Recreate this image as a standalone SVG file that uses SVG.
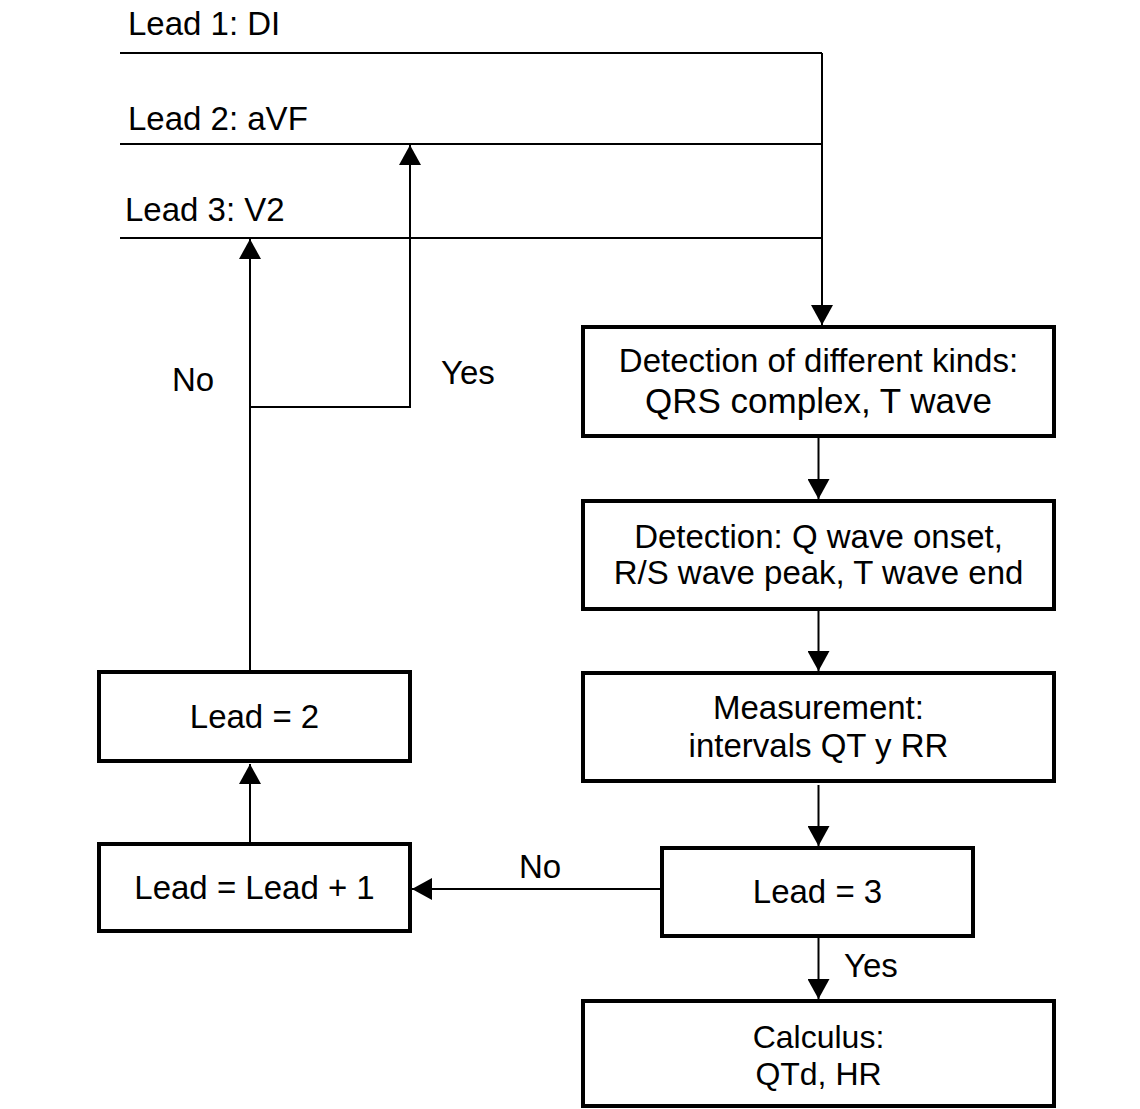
<svg xmlns="http://www.w3.org/2000/svg" width="1140" height="1109" viewBox="0 0 1140 1109">
<style>
  text { font-family: "Liberation Sans", Arial, sans-serif; font-size: 33px; fill: #000; }
  .mid { text-anchor: middle; }
  .big { font-size: 35px; }
  .sm { font-size: 32px; }
  .box { fill: #fff; stroke: #000; stroke-width: 4; }
  .conn { fill: none; stroke: #000; stroke-width: 2; }
</style>
<defs>
  <marker id="arr" markerUnits="userSpaceOnUse" markerWidth="20" markerHeight="22" viewBox="0 0 20 22" refX="20" refY="11" orient="auto">
    <path d="M0,0 L20,11 L0,22 z" fill="#000"/>
  </marker>
</defs>
<rect width="1140" height="1109" fill="#fff"/>

<g id="connectors">
  <path class="conn" d="M120,53 H822"/>
  <path class="conn" d="M120,144 H822"/>
  <path class="conn" d="M120,238 H822"/>
  <path class="conn" d="M822,53 V325" marker-end="url(#arr)"/>
  <path class="conn" d="M818.5,438 V499" marker-end="url(#arr)"/>
  <path class="conn" d="M818.5,611 V671" marker-end="url(#arr)"/>
  <path class="conn" d="M818.5,785 V846" marker-end="url(#arr)"/>
  <path class="conn" d="M818.5,938 V999" marker-end="url(#arr)"/>
  <path class="conn" d="M660,889 H412" marker-end="url(#arr)"/>
  <path class="conn" d="M250,842 V764" marker-end="url(#arr)"/>
  <path class="conn" d="M250,670 V239" marker-end="url(#arr)"/>
  <path class="conn" d="M250,407 H410 V145" marker-end="url(#arr)"/>
  <text x="128" y="35">Lead 1: DI</text>
  <text x="128" y="130">Lead 2: aVF</text>
  <text x="125" y="221">Lead 3: V2</text>
  <text x="172" y="391">No</text>
  <text x="441" y="384">Yes</text>
  <text x="519" y="878">No</text>
  <text x="844" y="977">Yes</text>
</g>

<g id="node-detect-kinds">
  <rect class="box" x="583" y="327" width="471" height="109"/>
  <text class="mid" x="818.5" y="372">Detection of different kinds:</text>
  <text class="mid big" x="818.5" y="413">QRS complex, T wave</text>
</g>

<g id="node-detect-waves">
  <rect class="box" x="583" y="501" width="471" height="108"/>
  <text class="mid" x="818.5" y="548">Detection: Q wave onset,</text>
  <text class="mid" x="818.5" y="584">R/S wave peak, T wave end</text>
</g>

<g id="node-measurement">
  <rect class="box" x="583" y="673" width="471" height="108"/>
  <text class="mid" x="818.5" y="719">Measurement:</text>
  <text class="mid" x="818.5" y="757">intervals QT y RR</text>
</g>

<g id="node-lead3">
  <rect class="box" x="662" y="848" width="311" height="88"/>
  <text class="mid" x="817.5" y="903">Lead = 3</text>
</g>

<g id="node-calculus">
  <rect class="box" x="583" y="1001" width="471" height="105"/>
  <text class="mid sm" x="818.5" y="1048">Calculus:</text>
  <text class="mid sm" x="818.5" y="1085">QTd, HR</text>
</g>

<g id="node-lead2">
  <rect class="box" x="99" y="672" width="311" height="89"/>
  <text class="mid" x="254.5" y="728">Lead = 2</text>
</g>

<g id="node-leadplus1">
  <rect class="box" x="99" y="844" width="311" height="87"/>
  <text class="mid" x="254.5" y="899">Lead = Lead + 1</text>
</g>
</svg>
